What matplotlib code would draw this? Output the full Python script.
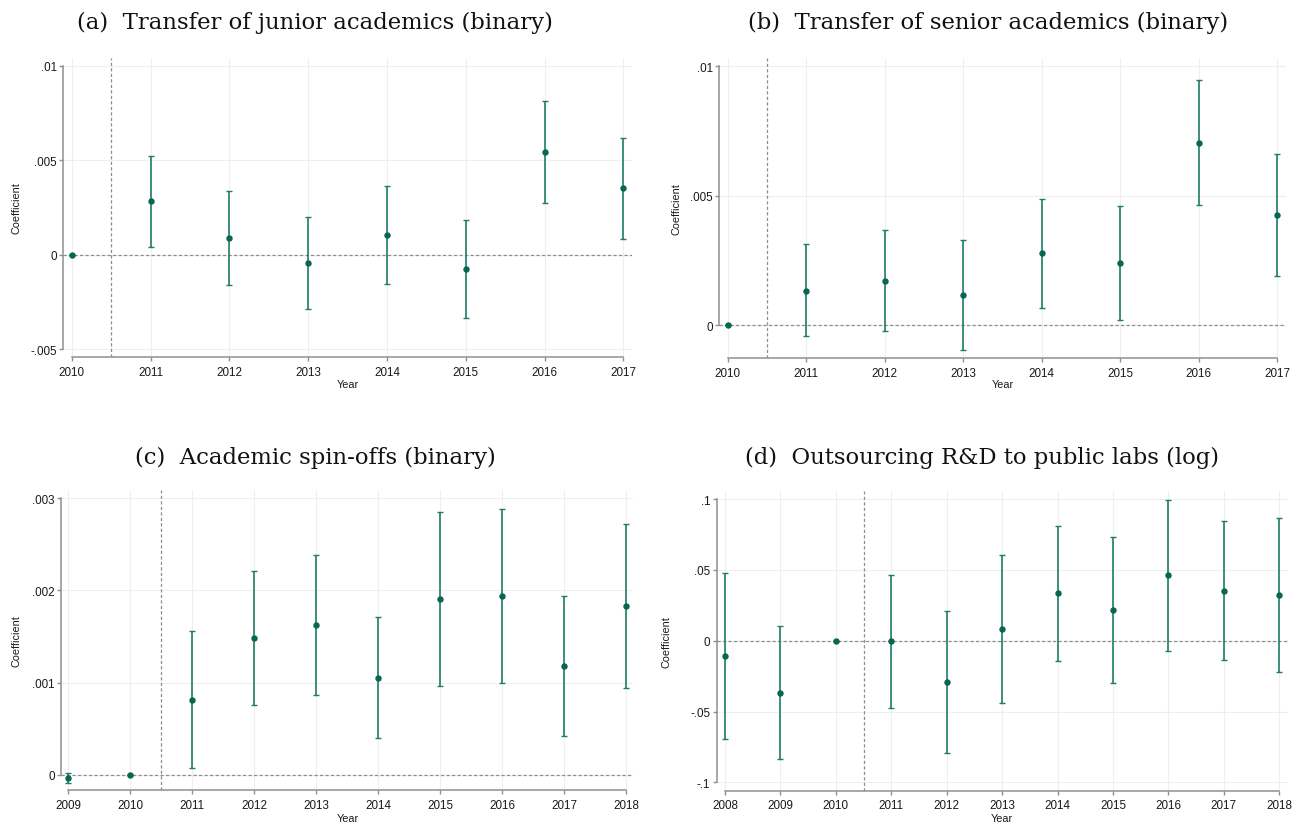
import matplotlib
matplotlib.use("Agg")
import matplotlib.pyplot as plt
import numpy as np

# ---------------- data ----------------
# (a) Transfer of junior academics (binary)
years_a = [2010, 2011, 2012, 2013, 2014, 2015, 2016, 2017]
coef_a = [0.0, 0.00283, 0.00088, -0.00042, 0.00105, -0.00075, 0.00544, 0.00351]
lo_a = [0.0, 0.00040, -0.00160, -0.00286, -0.00153, -0.00335, 0.00274, 0.00084]
hi_a = [0.0, 0.00523, 0.00335, 0.00202, 0.00365, 0.00186, 0.00815, 0.00618]
yticks_a = [-0.005, 0.0, 0.005, 0.01]
yticklabels_a = ["-.005", "0", ".005", ".01"]
title_a = "(a)  Transfer of junior academics (binary)"

# (b) Transfer of senior academics (binary)
years_b = [2010, 2011, 2012, 2013, 2014, 2015, 2016, 2017]
coef_b = [0.0, 0.00133, 0.00172, 0.00117, 0.00278, 0.00240, 0.00705, 0.00427]
lo_b = [0.0, -0.00044, -0.00024, -0.00095, 0.00067, 0.00018, 0.00464, 0.00191]
hi_b = [0.0, 0.00312, 0.00368, 0.00328, 0.00488, 0.00460, 0.00949, 0.00660]
yticks_b = [0.0, 0.005, 0.01]
yticklabels_b = ["0", ".005", ".01"]
title_b = "(b)  Transfer of senior academics (binary)"

# (c) Academic spin-offs (binary)
years_c = [2009, 2010, 2011, 2012, 2013, 2014, 2015, 2016, 2017, 2018]
coef_c = [-0.000033, 0.0, 0.000814, 0.001484, 0.001625, 0.001050, 0.001907, 0.001940, 0.001183, 0.001835]
lo_c = [-0.000087, 0.0, 0.000076, 0.000760, 0.000869, 0.000402, 0.000959, 0.000999, 0.000420, 0.000945]
hi_c = [0.000018, 0.0, 0.001556, 0.002208, 0.002381, 0.001708, 0.002856, 0.002880, 0.001944, 0.002725]
yticks_c = [0.0, 0.001, 0.002, 0.003]
yticklabels_c = ["0", ".001", ".002", ".003"]
title_c = "(c)  Academic spin-offs (binary)"

# (d) Outsourcing R&D to public labs (log)
years_d = [2008, 2009, 2010, 2011, 2012, 2013, 2014, 2015, 2016, 2017, 2018]
coef_d = [-0.0108, -0.0367, 0.0, -0.0005, -0.0292, 0.0080, 0.0334, 0.0216, 0.0461, 0.0353, 0.0320]
lo_d = [-0.0692, -0.0833, 0.0, -0.0473, -0.0791, -0.0442, -0.0144, -0.0299, -0.0073, -0.0136, -0.0224]
hi_d = [0.0478, 0.0101, 0.0, 0.0466, 0.0207, 0.0602, 0.0812, 0.0732, 0.0995, 0.0845, 0.0864]
yticks_d = [-0.1, -0.05, 0.0, 0.05, 0.1]
yticklabels_d = ["-.1", "-.05", "0", ".05", ".1"]
title_d = "(d)  Outsourcing R&D to public labs (log)"

treat_line = 2010.5
xlabel = "Year"
ylabel = "Coefficient"

# ---------------- styling ----------------
W, H, DPI = 1307, 829, 100
SANS = ["Liberation Sans", "DejaVu Sans"]
SERIF = ["DejaVu Serif"]
BAR_C = "#1f7c68"
DOT_C = "#08684f"
AXIS_C = "#8f8f8f"
GRID_C = "#efefef"
REF_C = "#8e8e8e"

fig = plt.figure(figsize=(W / DPI, H / DPI), dpi=DPI)
fig.patch.set_facecolor("white")


def panel(rect_px, xlim, ylim, years, coef, lo, hi, yticks, yticklabels,
          title, title_xy, ylab_x, xlab_y):
    left, top, right, bottom = rect_px
    ax = fig.add_axes([left / W, 1 - bottom / H, (right - left) / W, (bottom - top) / H])
    ax.set_xlim(*xlim)
    ax.set_ylim(*ylim)
    ax.set_xticks(years)
    ax.set_xticklabels([str(y) for y in years])
    ax.set_yticks(yticks)
    ax.set_yticklabels(yticklabels)
    for lab in ax.get_xticklabels() + ax.get_yticklabels():
        lab.set_fontfamily(SANS)
    ax.tick_params(axis="both", colors=AXIS_C, labelcolor="#1a1a1a",
                   labelsize=8.4, width=1.0, direction="out")
    ax.tick_params(axis="y", length=3.2, pad=1.5)
    ax.tick_params(axis="x", length=3.0, pad=3.2)
    for s in ("top", "right"):
        ax.spines[s].set_visible(False)
    for s in ("left", "bottom"):
        ax.spines[s].set_color(AXIS_C)
        ax.spines[s].set_linewidth(1.1)
    ax.spines["left"].set_bounds(yticks[0], yticks[-1])
    ax.spines["bottom"].set_bounds(years[0], years[-1])
    ax.grid(True, color=GRID_C, linewidth=0.8)
    ax.set_axisbelow(True)
    ax.axhline(0, color=REF_C, lw=0.9, ls=(0, (2.6, 1.8)), zorder=1.5)
    ax.axvline(treat_line, color=REF_C, lw=0.9, ls=(0, (2.6, 1.8)), zorder=1.5)
    c = np.asarray(coef)
    err = np.vstack([c - np.asarray(lo), np.asarray(hi) - c])
    ax.errorbar(years, c, yerr=err, fmt="none", ecolor=BAR_C, elinewidth=1.2,
                capsize=2.0, capthick=1.0, zorder=3)
    ax.plot(years, c, "o", ms=3.6, color=DOT_C, mec=DOT_C, zorder=4)
    fig.text(title_xy[0] / W, 1 - title_xy[1] / H, title, fontfamily=SERIF,
             fontsize=16.4, ha="center", va="baseline", color="#111111")
    fig.text(ylab_x / W, 1 - (top + bottom) / 2 / H, ylabel, rotation=90,
             fontfamily=SANS, fontsize=7.8, ha="center", va="center", color="#1a1a1a")
    fig.text((left + right) / 2 / W, 1 - xlab_y / H, xlabel,
             fontfamily=SANS, fontsize=7.8, ha="center", va="center", color="#1a1a1a")
    return ax


panel((63.3, 58.5, 632, 358), (2009.893, 2017.11), (-0.005424, 0.01045),
      years_a, coef_a, lo_a, hi_a, yticks_a, yticklabels_a,
      title_a, (315, 29), 17, 385)
panel((719.3, 58.8, 1286, 359.3), (2009.893, 2017.115), (-0.001287, 0.010329),
      years_b, coef_b, lo_b, hi_b, yticks_b, yticklabels_b,
      title_b, (988, 29), 677, 385)
panel((61.5, 491, 633.3, 791), (2008.895, 2018.11), (-0.000166, 0.00309),
      years_c, coef_c, lo_c, hi_c, yticks_c, yticklabels_c,
      title_c, (315, 464), 17, 819)
panel((716.7, 491.5, 1287.5, 791.7), (2007.85, 2018.15), (-0.1059, 0.106),
      years_d, coef_d, lo_d, hi_d, yticks_d, yticklabels_d,
      title_d, (982, 464), 667, 819)

fig.savefig("out.png", dpi=DPI, facecolor="white")
